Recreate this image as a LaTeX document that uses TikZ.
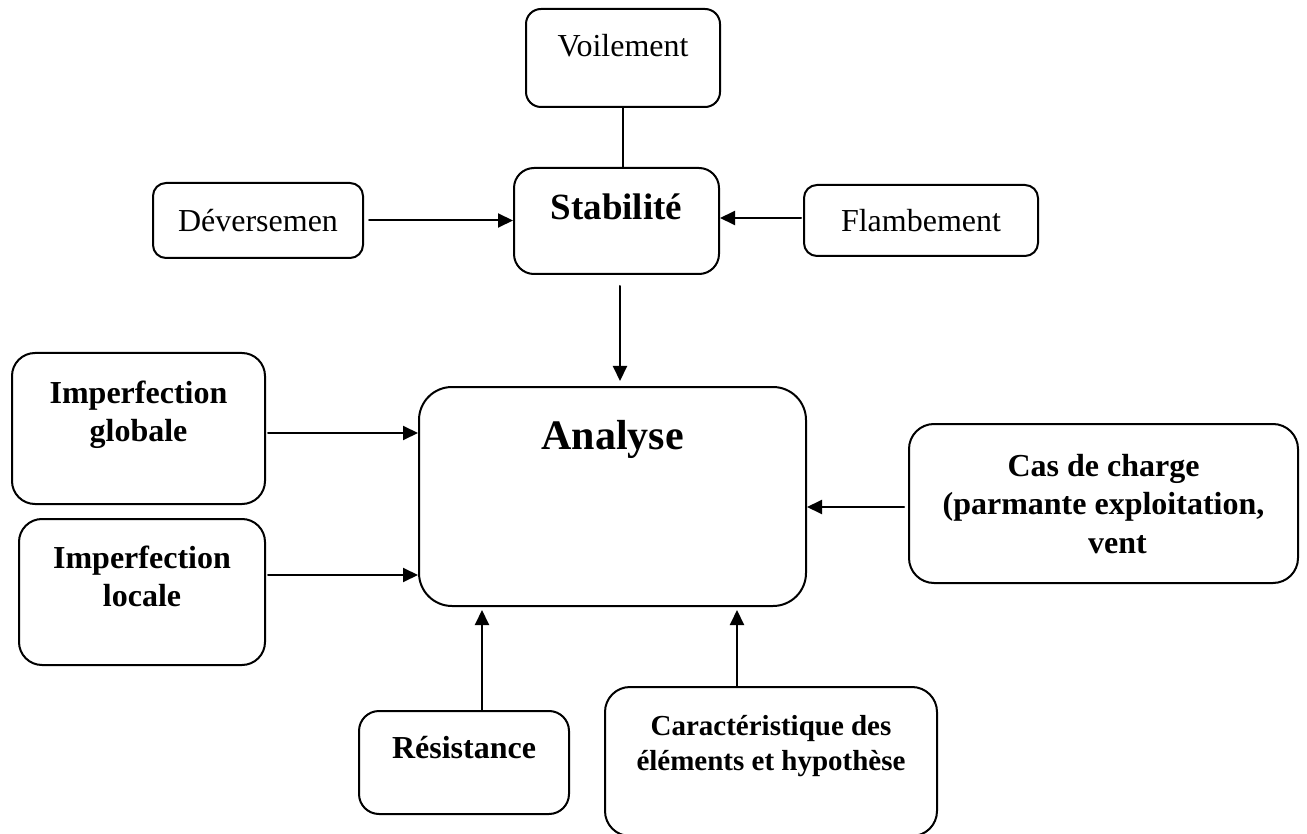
\documentclass[tikz,border=0pt]{standalone}
\usepackage{fontspec}
\setmainfont{Liberation Serif}
\usetikzlibrary{arrows.meta}

\tikzset{
  bloc/.style={draw,line width=1pt,rounded corners=10pt,inner sep=0pt},
  fleche/.style={-{Triangle[length=7.5pt,width=7pt]},line width=1pt},
  txt/.style={font=\fontsize{16}{19}\selectfont,align=center,inner sep=0pt},
  txtb/.style={txt,font=\fontsize{16}{19}\selectfont\bfseries},
}

\begin{document}
\begin{tikzpicture}[x=0.5pt,y=-0.5pt,line cap=round,line join=round]
        \useasboundingbox (0,0) rectangle (1307,834);

        % Cadres du haut
        \node[bloc,rounded corners=7.5pt,minimum width=97pt,minimum height=49pt] (voil) at (623,58) {};
        \node[bloc,minimum width=102.5pt,minimum height=53pt] (stab) at (616.5,221) {};
        \node[bloc,txt,rounded corners=6.5pt,minimum width=105pt,minimum height=37.5pt] (dever) at (258,220.5) {Déversemen};
        \node[bloc,txt,rounded corners=6.5pt,minimum width=117pt,minimum height=35.5pt] (flamb) at (921,220.5) {Flambement};

        \node[txt] (voiltxt) at ([yshift=-19pt]voil.north) {Voilement};
        \node[txtb,font=\fontsize{18.5}{22}\selectfont\bfseries] (stabtxt) at ([yshift=-20pt]stab.north) {Stabilité};

        % Cadre central et entrées
        \node[bloc,rounded corners=16.5pt,minimum width=193.5pt,minimum height=109.5pt] (analyse) at (612.5,496.5) {};
        \node[bloc,rounded corners=11.5pt,minimum width=126.5pt,minimum height=75.5pt] (impg) at (138.5,428.5) {};
        \node[bloc,rounded corners=11.5pt,minimum width=123pt,minimum height=73pt] (impl) at (142,592) {};
        \node[bloc,rounded corners=12.5pt,minimum width=194.5pt,minimum height=79.5pt] (cas) at (1103.5,503.5) {};
        \node[bloc,minimum width=105pt,minimum height=51.5pt] (resist) at (464,762.5) {};
        \node[bloc,rounded corners=12.5pt,minimum width=166pt,minimum height=74.5pt] (carac) at (771,761.5) {};

        \node[txtb,font=\fontsize{21}{25}\selectfont\bfseries] (analysetxt) at ([yshift=-26.5pt]analyse.north) {Analyse};
        \node[txtb] (impgtxt) at ([yshift=-31.25pt]impg.north) {Imperfection\\globale};
        \node[txtb] (impltxt) at ([yshift=-29pt]impl.north) {Imperfection\\locale};
        \node[txtb,font=\fontsize{16}{19.25}\selectfont\bfseries] (castxt) at ([yshift=-40.5pt]cas.north)
            {Cas de charge\\(parmante exploitation,\\\kern14pt vent};
        \node[txtb] (resisttxt) at ([yshift=-19pt]resist.north) {Résistance};
        \node[txtb,font=\fontsize{14.5}{17.5}\selectfont\bfseries] (caractxt) at ([yshift=-30.25pt]carac.north)
            {Caractéristique des\\éléments et hypothèse};

        % Liaisons
        \draw[line width=0.6pt] (voil.south) -- (voil.south |- stab.north);
        \draw[fleche] ([xshift=2.5pt]dever.east) -- (dever.east -| stab.west);
        \draw[fleche] ([xshift=-1pt,yshift=1.25pt]flamb.west) -- ([yshift=1.25pt]flamb.west -| stab.east);
        \draw[fleche] ([xshift=1.75pt,yshift=-5.5pt]stab.south) -- ([xshift=3.75pt,yshift=2.5pt]analyse.north);
        \draw[fleche] ([xshift=1pt,yshift=-2.25pt]impg.east) -- ([yshift=-2.25pt]impg.east -| analyse.west);
        \draw[fleche] ([xshift=1pt,yshift=8.5pt]impl.east) -- ([yshift=8.5pt]impl.east -| analyse.west);
        \draw[fleche] ([xshift=-2pt,yshift=-1.75pt]cas.west) -- ([yshift=-1.75pt]cas.west -| analyse.east);
        \draw[fleche] ([xshift=9pt]resist.north) -- ([xshift=9pt,yshift=-1.5pt]resist.north |- analyse.south);
        \draw[fleche] ([xshift=-17pt]carac.north) -- ([xshift=-17pt,yshift=-1.5pt]carac.north |- analyse.south);
    \end{tikzpicture}
\end{document}
